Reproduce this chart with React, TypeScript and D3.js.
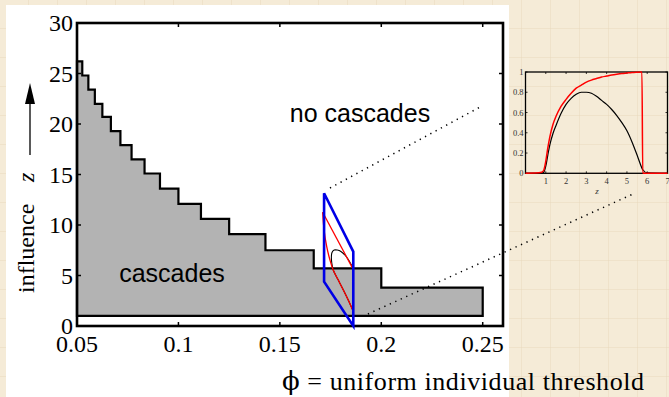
import * as d3 from 'd3';

const W = 669;
const H = 397;

// staircase boundary of the cascade region (phi edges, upper z per step, lower z)
const phiEdges = [0.05, 0.0526, 0.0556, 0.0588, 0.0625, 0.0667, 0.0714, 0.0769, 0.0833, 0.0909, 0.1, 0.1111, 0.125, 0.1429, 0.1667, 0.2, 0.25];
const zUpper = [26.2, 24.8, 23.4, 22.0, 20.7, 19.3, 17.9, 16.5, 15.1, 13.6, 12.1, 10.6, 9.1, 7.5, 5.7, 3.8];
const zLower = 1;

const xTicks = [0.05, 0.1, 0.15, 0.2, 0.25];
const xTickLabels = ['0.05', '0.1', '0.15', '0.2', '0.25'];
const yTicks = [0, 5, 10, 15, 20, 25, 30];

// blue zoom window
const quadPhi = [0.1718, 0.1862, 0.1862, 0.1718];
const quadZ = [13.14, 7.36, 0, 4.39];

// curves drawn inside the window
const redEdgePhi = [0.1859, 0.1711];
const redEdgeZ = [5.71, 11.26];
const redCurvePhi = [0.1711, 0.1718, 0.1731, 0.1747, 0.1763, 0.1788, 0.1813, 0.1837, 0.1859];
const redCurveZ = [11.26, 9.5, 7.85, 6.53, 5.54, 4.55, 3.56, 2.57, 1.58];
const blackLoopPhi = [0.1859, 0.1829, 0.1801, 0.1783, 0.1768, 0.1757, 0.1754, 0.1756, 0.1763, 0.1788, 0.1813, 0.1837, 0.1859];
const blackLoopZ = [5.81, 6.83, 7.38, 7.52, 7.52, 7.28, 6.83, 6.24, 5.54, 4.55, 3.56, 2.57, 1.58];

// dotted guides from window to inset
const guideFromPhi = [0.1747, 0.1934];
const guideFromZ = [13.66, 1.19];
const guideToPhi = [0.2496, 0.3241];
const guideToZ = [21.78, 13.07];

// inset
const insetZ = [0, 0.5, 0.8, 0.9, 1.0, 1.1, 1.2, 1.35, 1.5, 1.75, 2.0, 2.25, 2.5, 2.75, 3.0, 3.25, 3.5, 3.75, 4.0, 4.25, 4.5, 4.75, 5.0, 5.25, 5.5, 5.7, 5.74, 5.78, 6.0, 7.0];
const insetRed = [0, 0.002, 0.01, 0.03, 0.12, 0.25, 0.36, 0.48, 0.56, 0.66, 0.73, 0.79, 0.84, 0.87, 0.9, 0.92, 0.935, 0.95, 0.96, 0.97, 0.978, 0.985, 0.99, 0.995, 0.998, 1.0, 1.0, 0, 0, 0];
const insetBlack = [0, 0, 0.003, 0.01, 0.07, 0.18, 0.28, 0.39, 0.47, 0.59, 0.68, 0.74, 0.78, 0.8, 0.8, 0.79, 0.76, 0.72, 0.68, 0.63, 0.57, 0.5, 0.42, 0.31, 0.18, 0.07, 0.05, 0.035, 0.005, 0];
const insetXTicks = [1, 2, 3, 4, 5, 6, 7];
const insetYTicks = [0, 0.2, 0.4, 0.6, 0.8, 1];

const serif = '"Liberation Serif", "Times New Roman", serif';
const sans = '"Liberation Sans", Arial, sans-serif';

export default function App() {
    const x = d3.scaleLinear([0.05, 0.26], [77, 503]);
    const y = d3.scaleLinear([0, 30], [326, 23]);
    const xi = d3.scaleLinear([0, 7], [525.5, 667.5]);
    const yi = d3.scaleLinear([0, 1], [173.3, 72]);

    const line = d3.line<[number, number]>().x(d => x(d[0])).y(d => y(d[1]));
    const smooth = d3.line<[number, number]>().x(d => x(d[0])).y(d => y(d[1])).curve(d3.curveCatmullRom);

    // staircase outline
    const stairs: [number, number][] = [[phiEdges[0], zLower]];
    zUpper.forEach((z, i) => {
        stairs.push([phiEdges[i], z]);
        stairs.push([phiEdges[i + 1], z]);
    });
    stairs.push([phiEdges[phiEdges.length - 1], zLower]);

    const quad = quadPhi.map((p, i) => [p, quadZ[i]] as [number, number]);
    const redEdge = redEdgePhi.map((p, i) => [p, redEdgeZ[i]] as [number, number]);
    const redCurve = redCurvePhi.map((p, i) => [p, redCurveZ[i]] as [number, number]);
    const blackLoop = blackLoopPhi.map((p, i) => [p, blackLoopZ[i]] as [number, number]);

    const insetLine = d3.line<number>().x((_, i) => xi(insetZ[i])).y(d => yi(d)).curve(d3.curveMonotoneX);

    const [x0, x1] = x.range();
    const [y0, y1] = y.range();

    return (
        <svg width={W} height={H} style={{ position: 'absolute', left: 0, top: 0 }}>
            <defs>
                <pattern id="paper" width="29" height="29" patternUnits="userSpaceOnUse">
                    <path d="M28.5 0V29M0 28.5H29" stroke="#e6d8bb" strokeWidth="1" opacity="0.45" fill="none" />
                </pattern>
            </defs>
            <rect width={W} height={H} fill="#f5ebd7" />
            <rect width={W} height={H} fill="url(#paper)" />
            <rect x={6} y={5} width={503} height={H - 5} fill="#fff" />

            {/* cascade region */}
            <path d={line(stairs) + 'Z'} fill="#b3b3b3" stroke="#000" strokeWidth={2.2} strokeLinejoin="miter" />

            {/* axes box */}
            <rect x={x0} y={y1} width={x1 - x0} height={y0 - y1} fill="none" stroke="#000" strokeWidth={2.6} />
            {xTicks.map(t => (
                <g key={t}>
                    <line x1={x(t)} x2={x(t)} y1={y0} y2={y0 - 4} stroke="#000" strokeWidth={1.5} />
                    <line x1={x(t)} x2={x(t)} y1={y1} y2={y1 + 4} stroke="#000" strokeWidth={1.5} />
                </g>
            ))}
            {yTicks.map(t => (
                <g key={t}>
                    <line x1={x0} x2={x0 + 4} y1={y(t)} y2={y(t)} stroke="#000" strokeWidth={1.5} />
                    <line x1={x1} x2={x1 - 4} y1={y(t)} y2={y(t)} stroke="#000" strokeWidth={1.5} />
                </g>
            ))}
            {xTicks.map((t, i) => (
                <text key={t} x={x(t)} y={352} textAnchor="middle" fontFamily={serif} fontSize={24}>{xTickLabels[i]}</text>
            ))}
            {yTicks.map(t => (
                <text key={t} x={73} y={y(t) + 8} textAnchor="end" fontFamily={serif} fontSize={24}>{t}</text>
            ))}

            {/* region labels */}
            <text x={172} y={282} textAnchor="middle" fontFamily={sans} fontSize={25}>cascades</text>
            <text x={360} y={122} textAnchor="middle" fontFamily={sans} fontSize={25}>no cascades</text>

            {/* axis titles */}
            <text x={282} y={390} fontFamily={serif} fontSize={26} textLength={362} lengthAdjust="spacing">
                <tspan fontFamily='"DejaVu Serif", serif'>ϕ</tspan> = uniform individual threshold
            </text>
            <text transform="translate(34,293) rotate(-90)" fontFamily={serif} fontSize={24}>influence</text>
            <text transform="translate(34,182) rotate(-90)" fontFamily={serif} fontSize={24} fontStyle="italic">z</text>
            <line x1={30} x2={30} y1={155} y2={100} stroke="#000" strokeWidth={1.3} />
            <path d="M30 83L25 104L35 104Z" fill="#000" />

            {/* zoom window curves */}
            <path d={smooth(blackLoop)!} fill="none" stroke="#000" strokeWidth={1.1} />
            <path d={line(redEdge)!} fill="none" stroke="#f00" strokeWidth={1.3} />
            <path d={smooth(redCurve)!} fill="none" stroke="#f00" strokeWidth={1.3} />
            <path d={line(quad) + 'Z'} fill="none" stroke="#0000e6" strokeWidth={2.6} strokeLinejoin="miter" />

            {/* dotted guides */}
            {guideFromPhi.map((p, i) => (
                <line key={i} x1={x(p)} y1={y(guideFromZ[i])} x2={x(guideToPhi[i])} y2={y(guideToZ[i])}
                    stroke="#000" strokeWidth={1.5} strokeDasharray="1.3 4.7" />
            ))}

            {/* inset */}
            <g>
                <rect x={xi(0)} y={yi(1)} width={xi(7) - xi(0)} height={yi(0) - yi(1)} fill="none" stroke="#000" strokeWidth={1.3} />
                {insetXTicks.map(t => (
                    <g key={t}>
                        <line x1={xi(t)} x2={xi(t)} y1={yi(0)} y2={yi(0) - 2} stroke="#000" strokeWidth={0.8} />
                        <line x1={xi(t)} x2={xi(t)} y1={yi(1)} y2={yi(1) + 2} stroke="#000" strokeWidth={0.8} />
                        <text x={xi(t)} y={183.5} textAnchor="middle" fontFamily={serif} fontSize={8.5} fill="#333">{t}</text>
                    </g>
                ))}
                {insetYTicks.map(t => (
                    <g key={t}>
                        <line x1={xi(0)} x2={xi(0) + 2} y1={yi(t)} y2={yi(t)} stroke="#000" strokeWidth={0.8} />
                        <line x1={xi(7)} x2={xi(7) - 2} y1={yi(t)} y2={yi(t)} stroke="#000" strokeWidth={0.8} />
                        <text x={523.5} y={yi(t) + 3} textAnchor="end" fontFamily={serif} fontSize={8.5} fill="#333">{t}</text>
                    </g>
                ))}
                <text x={597} y={194} textAnchor="middle" fontFamily={serif} fontSize={9} fontStyle="italic" fill="#333">z</text>
                <path d={insetLine(insetBlack)!} fill="none" stroke="#000" strokeWidth={1.2} />
                <path d={insetLine(insetRed)!} fill="none" stroke="#f00" strokeWidth={1.5} />
            </g>
        </svg>
    );
}
